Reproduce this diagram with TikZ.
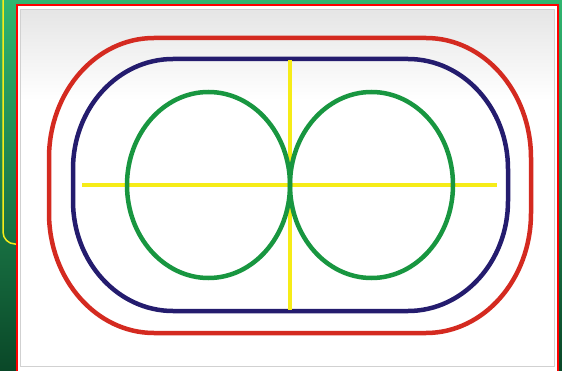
\documentclass[tikz,border=0pt]{standalone}
\usetikzlibrary{calc}
\definecolor{bgtop}{RGB}{48,182,112}
\definecolor{bgbot}{RGB}{10,72,40}
\definecolor{outred}{RGB}{212,42,32}
\definecolor{navy}{RGB}{36,28,110}
\definecolor{ringgreen}{RGB}{24,150,64}
\definecolor{crossyellow}{RGB}{246,236,24}
\tikzset{
  ring/.style={line width=4.5pt},
  crossline/.style={crossyellow, line width=4pt},
}
\begin{document}
\begin{tikzpicture}[x=1pt,y=1pt]
\useasboundingbox (0,0) rectangle (562,370);
% background
\shade[top color=bgtop, bottom color=bgbot] (0,0) rectangle (562,370);
\draw[crossyellow, line width=1.5pt, rounded corners=12pt] (3,380) -- (3,126) -- (30,126);
% panel
\fill[white] (17,-5) rectangle (557.5,365);
\shade[top color=black!10, bottom color=white] (20.5,360) rectangle (554.5,270);
\draw[black!18, line width=1pt] (20.5,4) rectangle (554.5,360);
\draw[red, line width=2pt] (17,-5) rectangle (557.5,365);
% outer red rounded shape: left 49, right 531, top 332, bottom 37; corner radii 105 x 120
\draw[ring, outred] (154,332) -- (426,332)
  arc[start angle=90, end angle=0, x radius=105, y radius=120]
  -- (531,157)
  arc[start angle=0, end angle=-90, x radius=105, y radius=120]
  -- (154,37)
  arc[start angle=270, end angle=180, x radius=105, y radius=120]
  -- (49,212)
  arc[start angle=180, end angle=90, x radius=105, y radius=120] -- cycle;
% inner navy rounded shape: left 73, right 508, top 311, bottom 59; corner radii 100 x 110
\draw[ring, navy] (173,311) -- (408,311)
  arc[start angle=90, end angle=0, x radius=100, y radius=110]
  -- (508,169)
  arc[start angle=0, end angle=-90, x radius=100, y radius=110]
  -- (173,59)
  arc[start angle=270, end angle=180, x radius=100, y radius=110]
  -- (73,201)
  arc[start angle=180, end angle=90, x radius=100, y radius=110] -- cycle;
% cross
\coordinate (hl) at (82,185);
\coordinate (hr) at (497,185);
\coordinate (vt) at (290,310);
\coordinate (vb) at (290,60);
\draw[crossline] (hl) -- (hr);
\draw[crossline] (vt) -- (vb);
% green ellipses
\draw[ring, ringgreen] (208.5,185) ellipse[x radius=81.5, y radius=93];
\draw[ring, ringgreen] (371.5,185) ellipse[x radius=81.5, y radius=93];
\end{tikzpicture}
\end{document}
